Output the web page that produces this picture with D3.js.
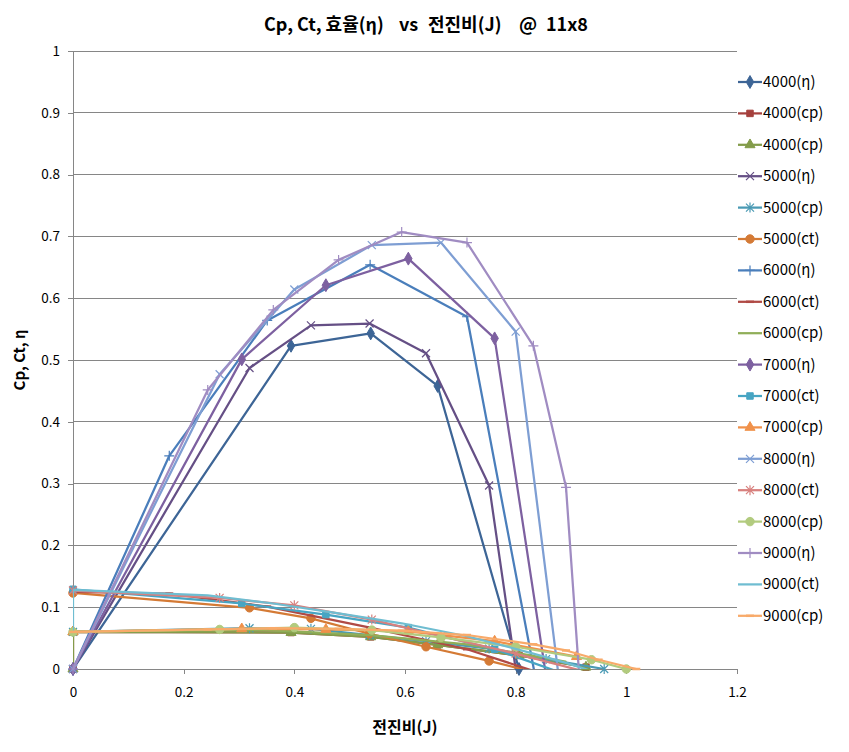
<!DOCTYPE html>
<html><head><meta charset="utf-8">
<script src="https://cdn.jsdelivr.net/npm/d3@7"></script>
<style>
html,body{margin:0;padding:0;background:#fff;}
text{font-family:"Noto Sans CJK KR","Noto Sans",sans-serif;}
</style></head>
<body>
<svg id="chart" width="849" height="752"></svg>
<script>
// ---------- data ----------
const xTicks = [0, 0.2, 0.4, 0.6, 0.8, 1, 1.2];
const yTicks = [0, 0.1, 0.2, 0.3, 0.4, 0.5, 0.6, 0.7, 0.8, 0.9, 1];

const J4000 = [0, 0, 0.394, 0.538, 0.659, 0.806, 0.927];
const eta4000 = [null, 0, 0.523, 0.543, 0.458, 0, null];
const cpA4000 = [0, 0.06, 0.059, 0.052, 0.039, 0.022, 0.003];
const cpB4000 = [0, 0.06, 0.059, 0.052, 0.039, 0.022, 0.003];

const J5000 = [0, 0.319, 0.43, 0.536, 0.638, 0.752, 0.855, 0.96];
const eta5000 = [0, 0.487, 0.556, 0.559, 0.511, 0.297, -0.34, null];
const cp5000 = [0.06, 0.066, 0.065, 0.055, 0.045, 0.033, 0.016, 0.0];
const ct5000 = [0.123, 0.099, 0.082, 0.057, 0.036, 0.013, -0.01, -0.04];

const J6000 = [0, 0.174, 0.351, 0.537, 0.712, 0.89];
const eta6000 = [0, 0.345, 0.564, 0.654, 0.570, -0.27];
const ct6000 = [0.125, 0.122, 0.101, 0.067, 0.032, -0.02];
const cp6000 = [0.06, 0.062, 0.063, 0.055, 0.040, 0.012];

const J7000 = [0, 0.305, 0.457, 0.606, 0.762, 0.91];
const eta7000 = [0, 0.501, 0.621, 0.664, 0.535, -0.335];
const ct7000 = [0.129, 0.106, 0.088, 0.067, 0.032, -0.015];
const cp7000 = [0.06, 0.065, 0.064, 0.061, 0.045, 0.02];

const J8000 = [0, 0.265, 0.40, 0.54, 0.665, 0.80, 0.937, 1.0];
const eta8000 = [0, 0.477, 0.614, 0.686, 0.690, 0.546, -0.438, null];
const ct8000 = [0.127, 0.115, 0.103, 0.080, 0.053, 0.025, -0.007, -0.02];
const cp8000 = [0.06, 0.064, 0.067, 0.063, 0.051, 0.036, 0.015, 0.0];

const J9000 = [0, 0, 0.2435, 0.362, 0.48, 0.594, 0.712, 0.832, 0.891, 0.95, 1.018];
const eta9000 = [null, 0, 0.4515, 0.581, 0.662, 0.707, 0.690, 0.523, 0.294, -0.46, null];
const ct9000 = [0.06, 0.128, 0.119, 0.106, 0.090, 0.074, 0.053, 0.025, 0.010, -0.007, -0.02];
const cp9000 = [null, 0.06, 0.064, 0.066, 0.065, 0.062, 0.055, 0.040, 0.030, 0.015, 0.0];

const seriesNames = ["4000(η)","4000(cp)","4000(cp)","5000(η)","5000(cp)","5000(ct)",
  "6000(η)","6000(ct)","6000(cp)","7000(η)","7000(ct)","7000(cp)",
  "8000(η)","8000(ct)","8000(cp)","9000(η)","9000(ct)","9000(cp)"];
const seriesX = [J4000,J4000,J4000,J5000,J5000,J5000,J6000,J6000,J6000,J7000,J7000,J7000,J8000,J8000,J8000,J9000,J9000,J9000];
const seriesY = [eta4000,cpA4000,cpB4000,eta5000,cp5000,ct5000,eta6000,ct6000,cp6000,eta7000,ct7000,cp7000,eta8000,ct8000,cp8000,eta9000,ct9000,cp9000];
const colors = ["#3D6596","#A5403D","#839C4A","#654F85","#4A9AB4","#D47A35",
  "#4A7EBB","#B04A45","#90AE58","#7D60A0","#47A5C3","#F0914A",
  "#7E9ED3","#D8807E","#B2CB7E","#A08CC2","#6FBDD1","#F8AA6A"];
const markers = ["diamond","square","triangle","x","star","circle","plus","dash","none",
  "diamond","square","triangle","x","star","circle","plus","none","dash"];

const titleParts = ["Cp, Ct, 효율(η)", "vs", "전진비(J)", "@", "11x8"];

// ---------- layout ----------
const svg = d3.select("#chart");
const L = 73, R = 737, T = 51, B = 669;
const x = d3.scaleLinear().domain([0, 1.2]).range([L, R]);
const y = d3.scaleLinear().domain([0, 1]).range([B, T]);

svg.append("defs").append("clipPath").attr("id","clip")
  .append("rect").attr("x", L).attr("y", T - 2).attr("width", R - L + 2).attr("height", B - T + 2);

// gridlines
svg.append("g").selectAll("line").data(yTicks.filter(d => d > 0)).join("line")
  .attr("x1", L).attr("x2", R).attr("y1", d => y(d)).attr("y2", d => y(d))
  .attr("stroke", "#868686").attr("stroke-width", 1).attr("shape-rendering","crispEdges");

// axes
const yAxis = d3.axisLeft(y).tickValues(yTicks).tickSize(5).tickPadding(8).tickFormat(d => d3.format("~g")(d));
const xAxis = d3.axisBottom(x).tickValues(xTicks).tickSize(5).tickPadding(13).tickFormat(d => d3.format("~g")(d));
const gy = svg.append("g").attr("transform", `translate(${L},0)`).call(yAxis);
const gx = svg.append("g").attr("transform", `translate(0,${B})`).call(xAxis);
[gx, gy].forEach(g => {
  g.select(".domain").attr("stroke", "#868686").attr("shape-rendering","crispEdges");
  g.selectAll(".tick line").attr("stroke", "#868686").attr("shape-rendering","crispEdges");
  g.selectAll(".tick text").attr("fill", "#000").style("font-size", "13.5px")
    .style("font-family", '"Noto Sans CJK KR","Noto Sans",sans-serif');
});

// marker drawing
function markerPath(type) {
  switch (type) {
    case "diamond": return d3.symbol(d3.symbolDiamond, 48)();
    case "square": return d3.symbol(d3.symbolSquare, 42)();
    case "triangle": return d3.symbol(d3.symbolTriangle, 44)();
    case "circle": return d3.symbol(d3.symbolCircle, 56)();
    case "x": return "M-4,-4L4,4M-4,4L4,-4";
    case "star": return "M-4,-4L4,4M-4,4L4,-4M0,-5L0,5";
    case "plus": return "M-5,0L5,0M0,-5L0,5";
    case "dash": return "M-4,0L4,0";
    default: return null;
  }
}
const filled = t => ["diamond","square","triangle","circle"].includes(t);
function drawMarker(g, type, color, px, py) {
  const p = markerPath(type);
  if (!p) return;
  const m = g.append("path").attr("d", p).attr("transform", `translate(${px},${py})`);
  if (filled(type)) m.attr("fill", color).attr("stroke", color).attr("stroke-width", 1);
  else m.attr("fill", "none").attr("stroke", color).attr("stroke-width", type === "dash" ? 2.5 : 1.2);
}

// series
const plot = svg.append("g");
const line = d3.line().defined(d => d[1] != null).x(d => x(d[0])).y(d => y(d[1]));
seriesNames.forEach((name, i) => {
  const pts = seriesX[i].map((jv, k) => [jv, seriesY[i][k]]);
  const g = plot.append("g");
  g.append("path").attr("d", line(pts)).attr("fill", "none")
    .attr("stroke", colors[i]).attr("stroke-width", 2.25)
    .attr("stroke-linejoin", "round").attr("stroke-linecap", "round")
    .attr("clip-path", "url(#clip)");
  pts.forEach(p => {
    if (p[1] != null && p[1] >= 0 && p[1] <= 1) drawMarker(g, markers[i], colors[i], x(p[0]), y(p[1]));
  });
});

// legend
const leg = svg.append("g");
seriesNames.forEach((name, i) => {
  const ly = 82 + i * 31.4;
  leg.append("line").attr("x1", 738).attr("x2", 762).attr("y1", ly).attr("y2", ly)
    .attr("stroke", colors[i]).attr("stroke-width", 2.25);
  drawMarker(leg, markers[i], colors[i], 750, ly);
  leg.append("text").attr("x", 763).attr("y", ly + 5).style("font-size", "15px").attr("fill", "#000").text(name);
});

// titles (pieces laid out with the wide gaps of the original)
const title = svg.append("text").attr("y", 31).style("font-size", "18px").style("font-weight", "bold");
const titleX = [264, 399, 428, 519, 546];
titleParts.forEach((t, k) => title.append("tspan").attr("x", titleX[k]).text(t));

svg.append("text").attr("x", 405).attr("y", 733).attr("text-anchor", "middle")
  .style("font-size", "16px").style("font-weight", "bold").text("전진비(J)");
svg.append("text").attr("transform", "translate(25,360) rotate(-90)").attr("text-anchor", "middle")
  .style("font-size", "15px").style("font-weight", "bold").text("Cp, Ct, η");
</script>
</body></html>
